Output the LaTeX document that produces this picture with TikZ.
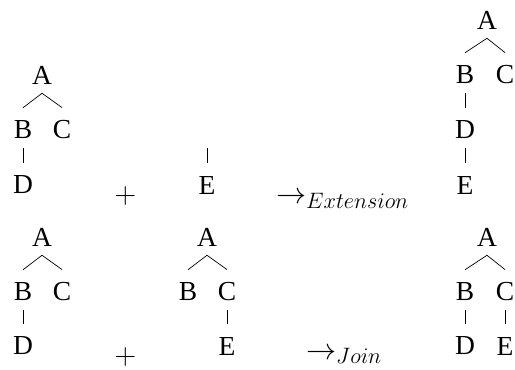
\RequirePackage{fix-cm}
\documentclass[tikz,border=0pt]{standalone}
\usepackage{fontspec}
\setmainfont{Liberation Serif}
\DeclareMathSizes{30}{30}{22.3}{16}
\usetikzlibrary{calc}
\tikzset{
  lbl/.style={inner sep=0pt, font=\fontsize{27.5}{32}\selectfont},
  opnode/.style={inner sep=0pt, font=\fontsize{30}{36}\selectfont},
  arrlbl/.style={inner sep=0pt, font=\fontsize{30}{36}\selectfont, anchor=base west},
  edge/.style={line width=0.7pt}
}
\newcommand\tedge[2]{\draw[edge] ($(#1.south)+(0,9)$) -- ($(#2.north)+(0,-13)$);}
\begin{document}
\begin{tikzpicture}[x=1pt,y=-1pt]
\useasboundingbox (0,0) rectangle (515,370);
% top-left tree
\node[lbl] (a1) at (42,75) {A};
\node[lbl] (b1) at (23,130) {B};
\node[lbl] (c1) at (62,130) {C};
\node[lbl] (d1) at (23,185) {D};
\tedge{a1}{b1}\tedge{a1}{c1}\tedge{b1}{d1}
% plus
\node[opnode] (p1) at (125.5,196) {$+$};
% lone E
\node[lbl] (e2) at (207,185) {E};
\draw[edge] ($(e2.north)+(0,-13)$) -- ($(e2.north)+(0,-28)$);
% extension arrow
\node[arrlbl] (x1) at (276,203.5) {$\rightarrow_{Extension}$};
% top-right tree
\node[lbl] (a3) at (487,20) {A};
\node[lbl] (b3) at (465,75) {B};
\node[lbl] (c3) at (505,75) {C};
\node[lbl] (d3) at (465,130) {D};
\node[lbl] (e3) at (465,185) {E};
\tedge{a3}{b3}\tedge{a3}{c3}\tedge{b3}{d3}\tedge{d3}{e3}
% bottom-left tree
\node[lbl] (a4) at (42,237) {A};
\node[lbl] (b4) at (23,292) {B};
\node[lbl] (c4) at (62,292) {C};
\node[lbl] (d4) at (23,346) {D};
\tedge{a4}{b4}\tedge{a4}{c4}\tedge{b4}{d4}
\node[opnode] (p2) at (125.5,357) {$+$};
% bottom-middle tree
\node[lbl] (a5) at (207,237) {A};
\node[lbl] (b5) at (188,292) {B};
\node[lbl] (c5) at (227,292) {C};
\node[lbl] (e5) at (227,346) {E};
\tedge{a5}{b5}\tedge{a5}{c5}\tedge{c5}{e5}
% join arrow
\node[arrlbl] (x2) at (306,359) {$\rightarrow_{Join}$};
% bottom-right tree
\node[lbl] (a6) at (487,237) {A};
\node[lbl] (b6) at (465,292) {B};
\node[lbl] (c6) at (505,292) {C};
\node[lbl] (d6) at (465,346) {D};
\node[lbl] (e6) at (505,346) {E};
\tedge{a6}{b6}\tedge{a6}{c6}\tedge{b6}{d6}\tedge{c6}{e6}
\end{tikzpicture}
\end{document}
